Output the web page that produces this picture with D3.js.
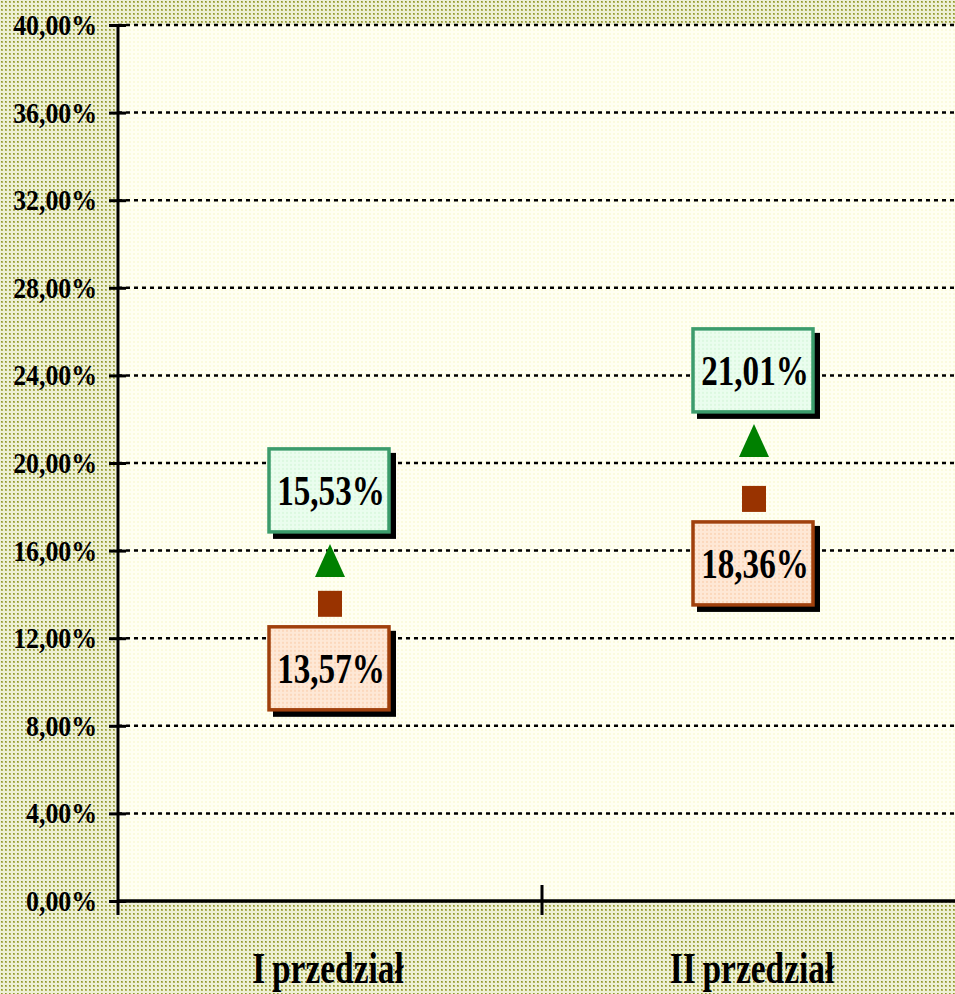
<!DOCTYPE html>
<html><head><meta charset="utf-8">
<script src="https://cdn.jsdelivr.net/npm/d3@7"></script>
<style>html,body{margin:0;padding:0;background:#fff;}svg{display:block;}</style>
</head><body>
<script>
const categories = ["I przedział", "II przedział"];
const brownValues = [13.57, 18.36];   // square markers
const greenValues = [15.53, 21.01];   // triangle markers
const yTicks = [0, 4, 8, 12, 16, 20, 24, 28, 32, 36, 40];

const W = 955, H = 994;
const m = {left: 118, top: 25, right: 966, bottom: 901};
const FONT = "'Liberation Serif', 'Times New Roman', serif";
const locale = d3.formatLocale({decimal: ",", thousands: " ", grouping: [3], currency: ["", " zł"]});
const fmt = v => locale.format(".2f")(v) + "%";

const svg = d3.select("body").append("svg").attr("width", W).attr("height", H);
const defs = svg.append("defs");
const pat = defs.append("pattern").attr("id", "bgpat").attr("width", 4).attr("height", 4).attr("patternUnits", "userSpaceOnUse");
pat.append("rect").attr("width", 4).attr("height", 4).attr("fill", "#eef0d6");
pat.append("rect").attr("x", 1).attr("y", 1).attr("width", 2).attr("height", 2).attr("fill", "#b2b660");
pat.append("rect").attr("x", 1).attr("y", 1).attr("width", 1).attr("height", 1).attr("fill", "#8e962e");
const pat2 = defs.append("pattern").attr("id", "plotpat").attr("width", 4).attr("height", 4).attr("patternUnits", "userSpaceOnUse");
pat2.append("rect").attr("width", 4).attr("height", 4).attr("fill", "#fffff2");
pat2.append("rect").attr("x", 1).attr("y", 1).attr("width", 2).attr("height", 2).attr("fill", "#fbfbde");
const gpat = defs.append("pattern").attr("id", "greenpat").attr("width", 4).attr("height", 4).attr("patternUnits", "userSpaceOnUse");
gpat.append("rect").attr("width", 4).attr("height", 4).attr("fill", "#eafdee");
gpat.append("rect").attr("x", 1).attr("y", 1).attr("width", 2).attr("height", 2).attr("fill", "#dcf8e0");
const bpat = defs.append("pattern").attr("id", "brownpat").attr("width", 4).attr("height", 4).attr("patternUnits", "userSpaceOnUse");
bpat.append("rect").attr("width", 4).attr("height", 4).attr("fill", "#fee8d6");
bpat.append("rect").attr("x", 1).attr("y", 1).attr("width", 2).attr("height", 2).attr("fill", "#fbd8bc");

svg.append("rect").attr("width", W).attr("height", H).attr("fill", "url(#bgpat)");
svg.append("rect").attr("x", m.left).attr("y", m.top).attr("width", m.right - m.left).attr("height", m.bottom - m.top).attr("fill", "url(#plotpat)");

const x = d3.scaleBand().domain(categories).range([m.left, m.right]).padding(0);
const y = d3.scaleLinear().domain([0, 40]).range([m.bottom, m.top]);
const cx = d => x(d) + x.bandwidth() / 2;

// gridlines
svg.append("g").selectAll("line").data(yTicks.filter(t => t > 0)).join("line")
  .attr("x1", m.left).attr("x2", W).attr("y1", d => y(d)).attr("y2", d => y(d))
  .attr("stroke", "#000").attr("stroke-width", 2.5).attr("stroke-dasharray", "4,4");

// y axis
const yAxis = svg.append("g").attr("transform", `translate(${m.left},0)`)
  .call(d3.axisLeft(y).tickValues(yTicks).tickFormat("").tickSize(0));
yAxis.select(".domain").remove();
yAxis.selectAll(".tick line").attr("x1", -9).attr("x2", 8).attr("stroke", "#000").attr("stroke-width", 3);
svg.append("g").selectAll("text").data(yTicks).join("text")
  .attr("transform", d => `translate(97,${y(d) + 10}) scale(0.86,1)`)
  .attr("text-anchor", "end").attr("font-family", FONT).attr("font-weight", "bold")
  .attr("font-size", 30).attr("fill", "#000").text(fmt);
svg.append("line").attr("x1", m.left).attr("x2", m.left).attr("y1", m.top - 1).attr("y2", m.bottom + 14)
  .attr("stroke", "#000").attr("stroke-width", 3);

// x axis
svg.append("line").attr("x1", m.left).attr("x2", m.right).attr("y1", m.bottom).attr("y2", m.bottom)
  .attr("stroke", "#000").attr("stroke-width", 3.5);
const bounds = categories.map(c => x(c)).concat([x(categories[categories.length - 1]) + x.bandwidth()]);
svg.append("g").selectAll("line").data(bounds.slice(1)).join("line")
  .attr("x1", d => d).attr("x2", d => d).attr("y1", m.bottom - 16).attr("y2", m.bottom + 14)
  .attr("stroke", "#000").attr("stroke-width", 3);
svg.append("g").selectAll("text").data(categories).join("text")
  .attr("transform", d => `translate(${cx(d) - 2},983) scale(0.76,1)`)
  .attr("text-anchor", "middle").attr("font-family", FONT).attr("word-spacing", -2)
  .attr("font-weight", "bold").attr("font-size", 44).attr("fill", "#000").text(d => d);

// markers
svg.append("g").selectAll("rect").data(categories).join("rect")
  .attr("x", (d) => cx(d) - 12).attr("y", (d, i) => y(brownValues[i]) - 13)
  .attr("width", 24).attr("height", 26).attr("fill", "#993300");
svg.append("g").selectAll("path").data(categories).join("path")
  .attr("d", (d, i) => {
    const X = cx(d), Y = y(greenValues[i]);
    return `M${X - 15},${Y + 16}L${X},${Y - 17}L${X + 15},${Y + 16}Z`;
  }).attr("fill", "#008000");

// labels
function labels(values, offset, fillId, stroke) {
  const g = svg.append("g").selectAll("g").data(categories).join("g")
    .attr("transform", (d, i) => `translate(${cx(d) - 1},${y(values[i]) + offset})`);
  g.append("rect").attr("x", -61 + 5).attr("y", -43 + 5).attr("width", 123).attr("height", 86).attr("fill", "#000");
  g.append("rect").attr("x", -60).attr("y", -42).attr("width", 120).attr("height", 83)
    .attr("fill", `url(#${fillId})`).attr("stroke", stroke).attr("stroke-width", 3.5);
  g.append("text").attr("transform", "translate(2,14) scale(0.77,1)").attr("text-anchor", "middle")
    .attr("font-family", FONT)
    .attr("font-weight", "bold").attr("font-size", 43).attr("fill", "#000")
    .text((d, i) => fmt(values[i]));
}
labels(greenValues, -70, "greenpat", "#3c9c6c");
labels(brownValues, 65, "brownpat", "#a0400c");
</script>
</body></html>
